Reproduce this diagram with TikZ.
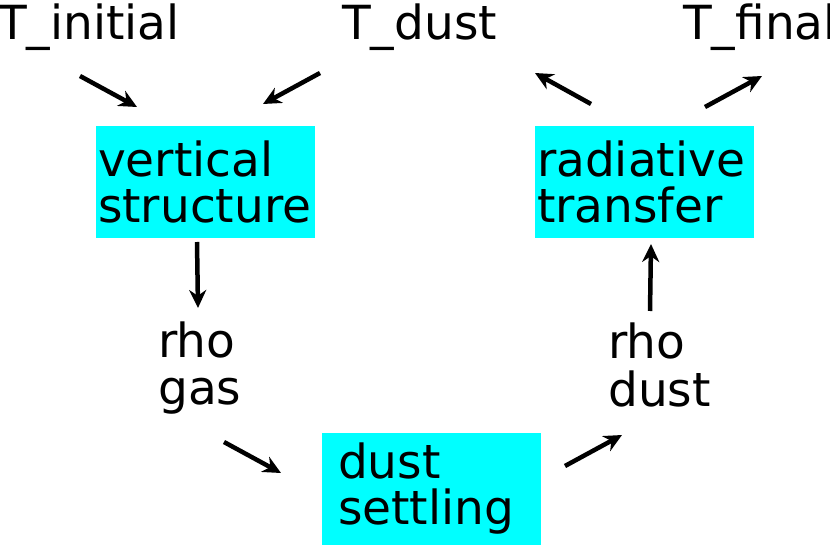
\documentclass[tikz,border=0pt]{standalone}
\usepackage{fontspec}
\setmainfont{DejaVu Sans}
\usetikzlibrary{arrows.meta}
\definecolor{aqua}{RGB}{0,255,255}
\begin{document}
\begin{tikzpicture}[x=1pt,y=-1pt,
  fnt/.style={font=\fontsize{47}{46}\selectfont},
  box/.style={fnt,fill=aqua,minimum width=219pt,minimum height=112pt,text width=215pt,inner xsep=2pt,align=left},
  lbl/.style={fnt,inner sep=0pt,anchor=base west},
  arr/.style={line width=4.5pt,-{Stealth[length=18pt,width=17pt]}}]
\useasboundingbox (0,0) rectangle (830,545);
\node[box] (vs) at (205.5,182) {vertical\\structure};
\node[box] (rt) at (644.5,182) {radiative\\transfer};
\node[box,text width=187pt,inner xsep=16pt] (ds) at (431.5,488.5) {dust\\settling};
\node[lbl] (ti) at (-2,40) {T\_initial};
\node[lbl] (td) at (342,40) {T\_dust};
\node[lbl] (tf) at (683,40) {T\_final};
\node[lbl] (rg1) at (158,357) {rho};
\node[lbl] (rg2) at (158,404) {gas};
\node[lbl] (rd1) at (608,359) {rho};
\node[lbl] (rd2) at (608,406) {dust};
\coordinate (a1) at (80,76); \coordinate (b1) at (137,107);
\coordinate (a2) at (320,73); \coordinate (b2) at (263,104);
\coordinate (a3) at (197,242); \coordinate (b3) at (198,308);
\coordinate (a4) at (224,442); \coordinate (b4) at (281,473);
\coordinate (a5) at (565,466); \coordinate (b5) at (622,435);
\coordinate (a6) at (650,311); \coordinate (b6) at (651,244);
\coordinate (a7) at (591,104); \coordinate (b7) at (535,73);
\coordinate (a8) at (705,107); \coordinate (b8) at (762,76);
\foreach \i in {1,...,8} \draw[arr] (a\i) -- (b\i);
\end{tikzpicture}
\end{document}
